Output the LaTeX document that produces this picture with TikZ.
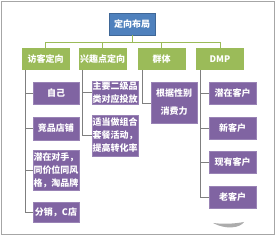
\documentclass[tikz,border=0pt]{standalone}
\usepackage{fontspec}
\newfontfamily\cjk{Noto Sans CJK SC}
\definecolor{cblue}{HTML}{4F81BD}
\definecolor{cgreen}{HTML}{9BBB59}
\definecolor{cpurple}{HTML}{8064A2}
\definecolor{cline}{HTML}{7F7F7F}
\tikzset{
  box/.style={inner sep=0pt, text=white, align=center, font=\cjk\bfseries\fontsize{9}{13}\selectfont},
  rootbox/.style={box, fill=cblue, draw=cblue!80!black, line width=0.4pt, minimum width=46pt, minimum height=22pt},
  lvltwo/.style={box, fill=cgreen, minimum width=48pt, minimum height=22pt},
  leaf/.style={box, fill=cpurple, draw=cpurple!80!white, line width=0.4pt, text width=46pt, minimum width=46pt},
  bus/.style={draw=cgreen, line width=0.8pt},
  conn/.style={draw=cline, line width=0.8pt},
}
\begin{document}
\begin{tikzpicture}[x=1pt,y=-1pt]
\useasboundingbox (0,0) rectangle (276,237);
\fill[white] (0,0) rectangle (276,237);
\draw[gray!70, line width=0.8pt] (1.5,1.5) rectangle (274,234);

\node[rootbox] (root) at (132,24) {定向布局};

\node[lvltwo] (l1) at (45.5,59) {访客定向};
\node[lvltwo] (l2) at (102.5,59) {兴趣点定向};
\node[lvltwo] (l3) at (161.5,59) {群体};
\node[lvltwo] (l4) at (220,59) {DMP};

\draw[bus] (root.south) -- ++(0,7) coordinate (b0);
\draw[bus] (b0) -| (l1.north);
\draw[bus] (b0) -| (l2.north);
\draw[bus] (b0) -| (l3.north);
\draw[bus] (b0) -| (l4.north);

% column 1
\node[leaf, minimum height=22pt] (a1) at (56,93) {自己};
\node[leaf, minimum height=23pt] (a2) at (56,128.5) {竞品店铺};
\node[leaf, minimum height=40pt] (a3) at (56,170) {潜在对手，\\同价位同风\\格，淘品牌};
\node[leaf, minimum height=20pt] (a4) at (56,212) {分销，C店};

% column 2
\node[leaf, minimum height=23pt] (b1) at (115,92.5) {主要二级品\\类对应投放};
\node[leaf, minimum height=41pt] (b2) at (115,135.5) {适当做组合\\套餐活动，\\提高转化率};

% column 3
\node[leaf, minimum height=41pt, font=\cjk\bfseries\fontsize{9}{18}\selectfont] (c1) at (174,102.5) {根据性别\\消费力};

% column 4
\node[leaf, text width=47pt, minimum height=22pt] (d1) at (232.5,93) {潜在客户};
\node[leaf, text width=47pt, minimum height=22pt] (d2) at (232.5,128) {新客户};
\node[leaf, text width=47pt, minimum height=22pt] (d3) at (232.5,162) {现有客户};
\node[leaf, text width=47pt, minimum height=22pt] (d4) at (232.5,197) {老客户};

% connectors
\foreach \t in {a1,a2,a3,a4} \draw[conn] ([xshift=4pt]l1.south west) |- (\t.west);
\foreach \t in {b1,b2} \draw[conn] ([xshift=4pt]l2.south west) |- (\t.west);
\draw[conn] ([xshift=5pt]l3.south west) |- ([yshift=-1pt]c1.west);
\foreach \t in {d1,d2,d3,d4} \draw[conn] ([xshift=5pt]l4.south west) |- (\t.west);

% shadow
\fill[gray!65] (213,223) .. controls (225,224.5) and (236,223.5) .. (244,222) .. controls (240,228) and (226,230) .. (213,223) -- cycle;
\end{tikzpicture}
\end{document}
